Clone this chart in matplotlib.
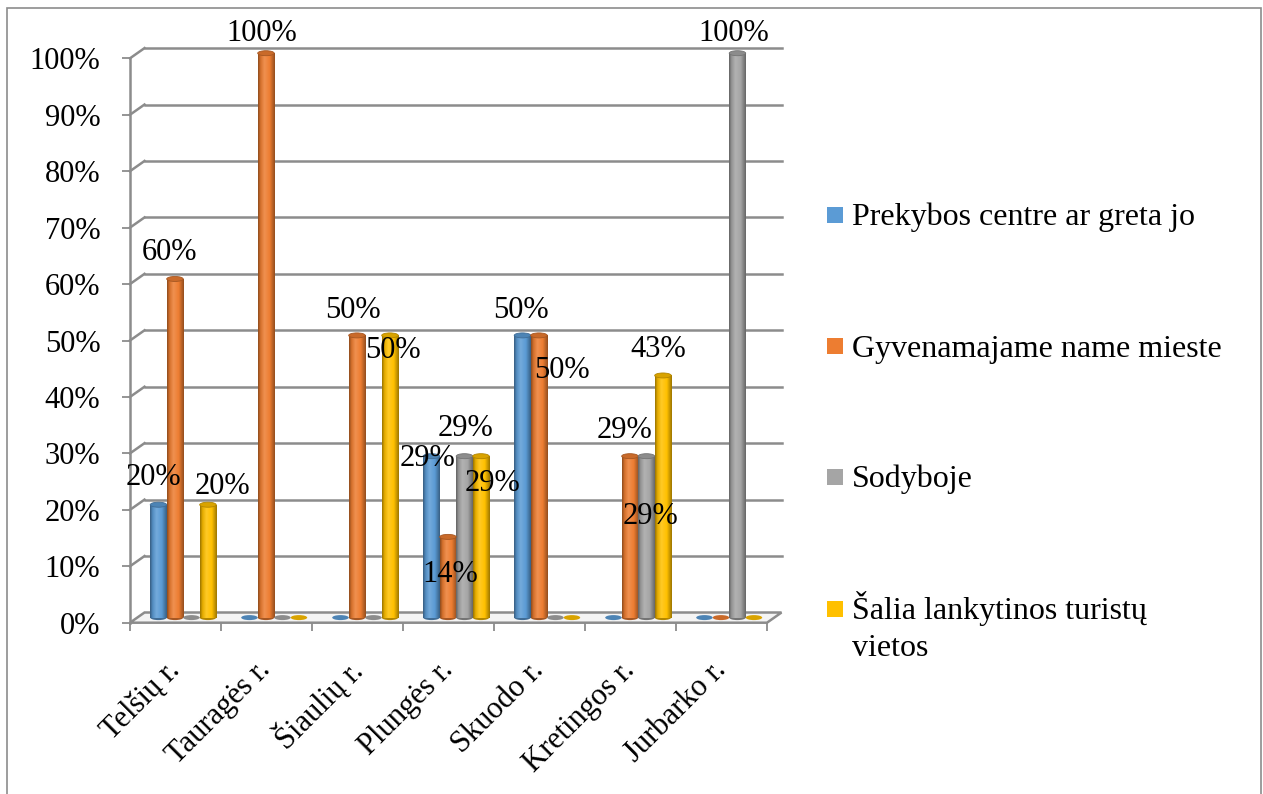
import textwrap
import numpy as np
import matplotlib
matplotlib.use("Agg")
import matplotlib.pyplot as plt
from matplotlib.colors import LinearSegmentedColormap, to_rgb
from matplotlib.patches import Ellipse, Polygon, Rectangle

plt.rcParams['font.family'] = ['Liberation Serif', 'DejaVu Serif']

# duomenys
categories = ['Telšių r.', 'Tauragės r.', 'Šiaulių r.', 'Plungės r.',
              'Skuodo r.', 'Kretingos r.', 'Jurbarko r.']
series_names = ['Prekybos centre ar greta jo', 'Gyvenamajame name mieste',
                'Sodyboje', 'Šalia lankytinos turistų vietos']
prekybos = [20, 0, 0, 28.6, 50, 0, 0]
gyvenamajame = [60, 100, 50, 14.3, 50, 28.6, 0]
sodyboje = [0, 0, 0, 28.6, 0, 28.6, 100]
salia = [20, 0, 50, 28.6, 0, 42.9, 0]
series = [prekybos, gyvenamajame, sodyboje, salia]
colors = ['#5B9BD5', '#ED7D31', '#A5A5A5', '#FFC000']

# etikečių poslinkiai pikseliais (x, y aukštyn)
label_offsets = {
    (0, 0): (-5, 27), (0, 1): (-5, 26), (0, 3): (14, 18),
    (1, 1): (-4, 20),
    (2, 1): (-4, 25), (2, 3): (3, -15),
    (3, 0): (-4, -2), (3, 1): (2, -38), (3, 2): (1, 28), (3, 3): (12, -27),
    (4, 0): (-2, 25), (4, 1): (23, -35),
    (5, 1): (-5, 26), (5, 2): (4, -60), (5, 3): (-5, 26),
    (6, 2): (-4, 20),
}

W, H = 1263, 794
fig = plt.figure(figsize=(W / 100, H / 100), dpi=100)

# ašies vieta pikseliais
x_left, x_right = 130, 767
y_zero, y_top = 622.7, 58.3
ax = fig.add_axes([x_left / W, (H - y_zero) / H,
                   (x_right - x_left) / W, (y_zero - y_top) / H])
ax.set_xlim(0, 7)
ax.set_ylim(0, 100)
px_x = (x_right - x_left) / 7
px_y = (y_zero - y_top) / 100
DX = 14.5 / px_x
DY = 10.2 / px_y
grid_c = '#8c8c8c'


def shade(c, f):
    r = np.array(to_rgb(c))
    if f <= 1:
        return tuple(r * f)
    return tuple(r + (1 - r) * (f - 1))


def cyl_cmap(c):
    return LinearSegmentedColormap.from_list(
        'cyl', [(0, shade(c, 0.6)), (0.15, shade(c, 0.9)), (0.38, shade(c, 1.15)),
                (0.7, shade(c, 1.0)), (1, shade(c, 0.62))])


# galinė siena ir šoninė siena
for v in range(10, 101, 10):
    ax.plot([DX, 7 + DX], [v + DY, v + DY], color=grid_c, lw=1.8, clip_on=False, zorder=1)
    ax.plot([0, DX], [v, v + DY], color=grid_c, lw=1.8, clip_on=False, zorder=1)
ax.plot([0, 0], [0, 100], color=grid_c, lw=1.8, clip_on=False, zorder=1)

# grindys
floor = Polygon([(0, 0), (7, 0), (7 + DX, DY), (DX, DY)], closed=True,
                facecolor='#f4f4f4', edgecolor=grid_c, lw=1.8, clip_on=False, zorder=1)
ax.add_patch(floor)

bw = 16.5 / px_x
bx = 7.7 / px_x
base = DY / 2
cap_h = 5 / px_y
for j, vals in enumerate(series):
    xs = np.arange(len(categories)) + 0.5 + bx + (j - 1.5) * bw
    c = colors[j]
    bars = ax.bar(xs, vals, width=bw, bottom=base, color=c, zorder=3, clip_on=False)
    for i, (rect, v) in enumerate(zip(bars, vals)):
        xc = xs[i]
        if v <= 0:
            ax.add_patch(Ellipse((xc, base), bw, cap_h, facecolor=shade(c, 0.85),
                                 edgecolor='none', zorder=3, clip_on=False))
            continue
        x0, y0 = rect.get_x(), rect.get_y()
        ax.add_patch(Ellipse((xc, y0), bw, cap_h, facecolor=shade(c, 0.7),
                             edgecolor='none', zorder=2, clip_on=False))
        ax.imshow(np.linspace(0, 1, 64).reshape(1, -1), cmap=cyl_cmap(c),
                  extent=[x0, x0 + rect.get_width(), y0, y0 + rect.get_height()],
                  aspect='auto', interpolation='bilinear', zorder=3, clip_on=False)
        ax.add_patch(Ellipse((xc, y0 + v), bw, cap_h, facecolor=shade(c, 0.85),
                             edgecolor=shade(c, 0.7), lw=0.6, zorder=4, clip_on=False))
        dx, dy = label_offsets.get((i, j), (-4, 26))
        ax.annotate(f'{round(v)}%', (xc, y0 + v), xytext=(dx, dy),
                    textcoords='offset pixels', ha='center', va='center',
                    fontsize=22, zorder=6, annotation_clip=False)

ax.set_xlim(0, 7)
ax.set_ylim(0, 100)
ax.set_aspect('auto')
for s in ax.spines.values():
    s.set_visible(False)

ax.set_yticks(range(0, 101, 10))
ax.set_yticklabels([f'{v}%' for v in range(0, 101, 10)], fontsize=22)
ax.tick_params(axis='y', length=5.8, width=1.3, color=grid_c, pad=15.5)

ax.set_xticks(np.arange(len(categories)) + 0.5)
ax.set_xticklabels(categories, rotation=45, ha='right', va='center',
                   rotation_mode='anchor', fontsize=22)
ax.set_xticks(np.arange(0, 8), minor=True)
ax.tick_params(axis='x', which='major', length=0, pad=31)
ax.tick_params(axis='x', which='minor', length=6, width=1.3, color=grid_c, pad=0)

# legenda
leg_x, leg_rows = 827, [215, 346, 477, 609]
for name, c, yc in zip(series_names, colors, leg_rows):
    fig.patches.append(Rectangle(((leg_x) / W, (H - yc - 8) / H), 16 / W, 16 / H,
                                 transform=fig.transFigure, facecolor=c, edgecolor='none'))
    for k, line in enumerate(textwrap.wrap(name, 27)):
        fig.text(852 / W, (H - yc - 10.5 - 36 * k) / H, line, fontsize=23,
                 ha='left', va='baseline')

# rėmelis
fig.patches.append(Rectangle((7 / W, -0.05), (1261 - 7) / W, (H - 8) / H + 0.05,
                             transform=fig.transFigure, facecolor='none',
                             edgecolor='#8c8c8c', lw=1.2))

fig.savefig('out.png', dpi=100)
